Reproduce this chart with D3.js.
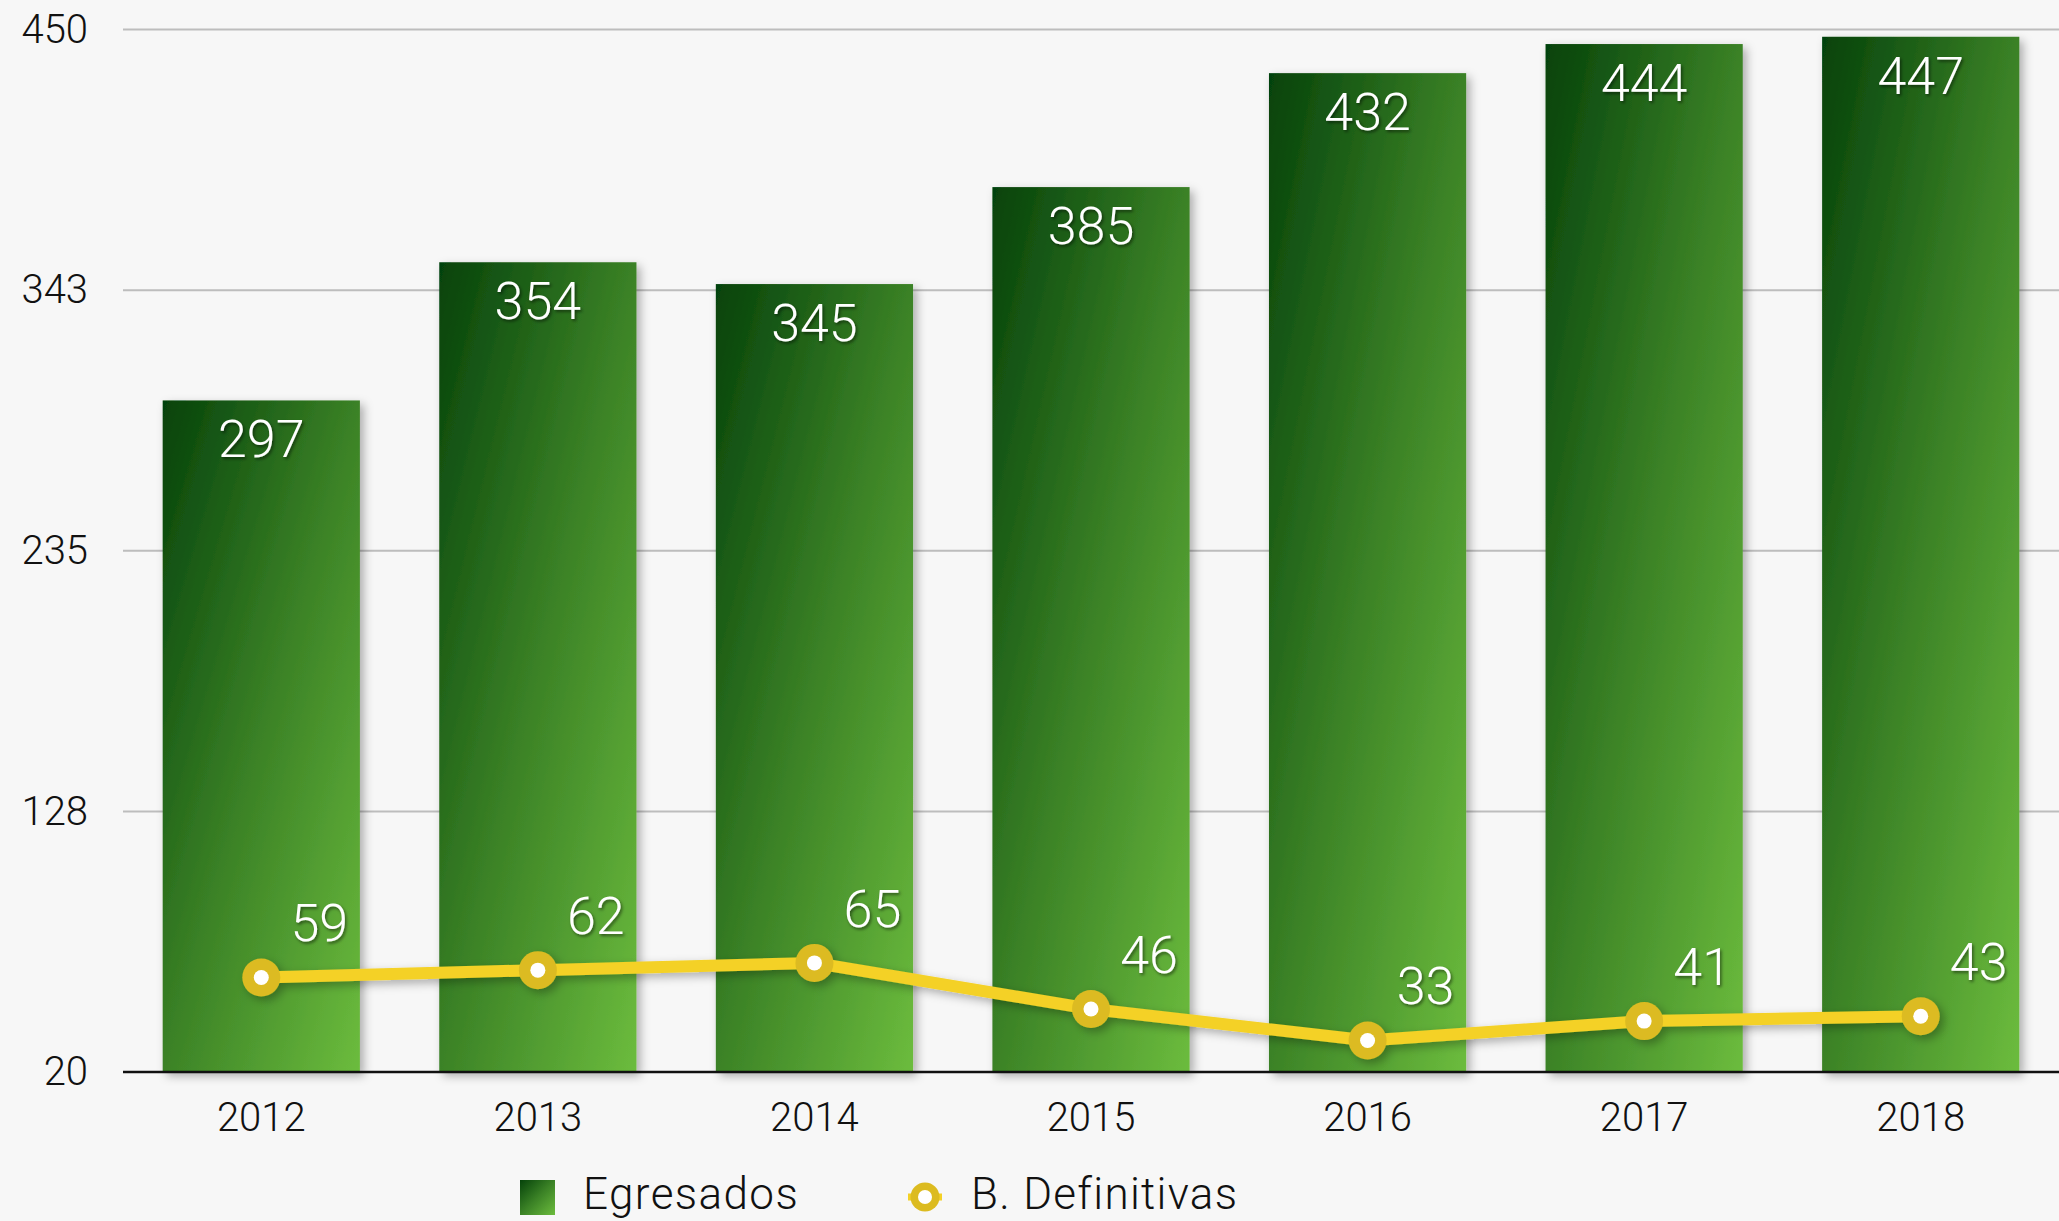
<!DOCTYPE html>
<html><head><meta charset="utf-8">
<script src="https://cdn.jsdelivr.net/npm/d3@7"></script>
<style>
html,body{margin:0;padding:0;background:#f7f7f7;}
svg{display:block;}
text{font-family:Roboto,"Liberation Sans",sans-serif;}
</style></head>
<body>
<script>
const years = ["2012","2013","2014","2015","2016","2017","2018"];
const egresados = [297,354,345,385,432,444,447];
const definitivas = [59,62,65,46,33,41,43];
const yTicks = [20,127.5,235,342.5,450];
const yTickLabels = ["20","128","235","343","450"];
const seriesNames = ["Egresados","B. Definitivas"];

const W = 2059, H = 1221;
const svg = d3.select("body").append("svg").attr("width",W).attr("height",H);
svg.append("rect").attr("width",W).attr("height",H).attr("fill","#f7f7f7");

const defs = svg.append("defs");
const grad = defs.append("linearGradient").attr("id","barGrad")
  .attr("x1",0).attr("y1",0).attr("x2",1).attr("y2",1);
grad.append("stop").attr("offset","0%").attr("stop-color","#05420a");
grad.append("stop").attr("offset","50%").attr("stop-color","#3b8226");
grad.append("stop").attr("offset","100%").attr("stop-color","#6cbc3d");

const sh = defs.append("filter").attr("id","shadow").attr("x","-20%").attr("y","-20%").attr("width","140%").attr("height","140%");
sh.append("feDropShadow").attr("dx",4).attr("dy",4).attr("stdDeviation",5).attr("flood-color","#000").attr("flood-opacity",0.3);
const ts = defs.append("filter").attr("id","tshadow").attr("x","-20%").attr("y","-20%").attr("width","140%").attr("height","140%");
ts.append("feDropShadow").attr("dx",1.5).attr("dy",2).attr("stdDeviation",1.5).attr("flood-color","#000").attr("flood-opacity",0.5);

const x = d3.scaleBand().domain(years).range([123, W]).paddingInner(0.287).paddingOuter(0.1435);
const y = d3.scaleLinear().domain([20,450]).range([1072, 29.5]);

const yAxis = d3.axisLeft(y).tickValues(yTicks).tickSize(0).tickFormat((d,i)=>yTickLabels[i]);
const gy = svg.append("g").attr("transform","translate(88,0)").call(yAxis);
gy.select(".domain").remove();
gy.selectAll("text").attr("x",0).attr("font-size",40).attr("font-weight",300).attr("fill","#111")
  .attr("font-family","Roboto, sans-serif").attr("text-anchor","end");

svg.append("g").selectAll("line").data(yTicks.filter(d=>d!==20)).join("line")
  .attr("x1",123).attr("x2",W).attr("y1",d=>y(d)).attr("y2",d=>y(d))
  .attr("stroke","#bdbdbd").attr("stroke-width",2);

svg.append("g").attr("filter","url(#shadow)").selectAll("rect").data(egresados).join("rect")
  .attr("x",(d,i)=>x(years[i])).attr("width",x.bandwidth())
  .attr("y",d=>y(d)).attr("height",d=>y(20)-y(d))
  .attr("fill","url(#barGrad)");

const xAxis = d3.axisBottom(x).tickSize(0).tickPadding(0);
const gx = svg.append("g").attr("transform",`translate(0,${y(20)})`).call(xAxis);
gx.select(".domain").remove();
gx.selectAll("text").attr("dy",null).attr("y",59).attr("font-size",40).attr("font-weight",300)
  .attr("fill","#111").attr("font-family","Roboto, sans-serif");
svg.append("line").attr("x1",123).attr("x2",W).attr("y1",y(20)).attr("y2",y(20))
  .attr("stroke","#111").attr("stroke-width",2.5);

svg.append("g").attr("filter","url(#tshadow)").selectAll("text").data(egresados).join("text")
  .attr("x",(d,i)=>x(years[i])+x.bandwidth()/2).attr("y",d=>y(d)+57)
  .attr("text-anchor","middle").attr("font-size",52).attr("font-weight",300).attr("fill","#fff")
  .text(d=>d);

const cx = (d,i)=>x(years[i])+x.bandwidth()/2;
const line = d3.line().x((d,i)=>cx(d,i)).y(d=>y(d));
const lg = svg.append("g").attr("filter","url(#shadow)");
lg.append("path").datum(definitivas).attr("d",line).attr("fill","none")
  .attr("stroke","#f4d126").attr("stroke-width",12).attr("stroke-linejoin","round");
lg.selectAll("circle.o").data(definitivas).join("circle").attr("class","o")
  .attr("cx",cx).attr("cy",d=>y(d)).attr("r",19).attr("fill","#dcbb20");
svg.append("g").selectAll("circle").data(definitivas).join("circle")
  .attr("cx",cx).attr("cy",d=>y(d)).attr("r",7.5).attr("fill","#fff");

svg.append("g").attr("filter","url(#tshadow)").selectAll("text").data(definitivas).join("text")
  .attr("x",(d,i)=>cx(d,i)+58).attr("y",d=>y(d)-36)
  .attr("text-anchor","middle").attr("font-size",52).attr("font-weight",300).attr("fill","#fff")
  .text(d=>d);

const leg = svg.append("g");
leg.append("rect").attr("x",520).attr("y",1180).attr("width",35).attr("height",35).attr("fill","url(#barGrad)");
leg.append("text").attr("x",583).attr("y",1209).attr("font-size",44).attr("font-weight",300)
  .attr("letter-spacing",1.4).attr("fill","#111").text(seriesNames[0]);
leg.append("line").attr("x1",908).attr("x2",942).attr("y1",1197).attr("y2",1197).attr("stroke","#f4d126").attr("stroke-width",7);
leg.append("circle").attr("cx",925).attr("cy",1197).attr("r",14.5).attr("fill","#dcbb20");
leg.append("circle").attr("cx",925).attr("cy",1197).attr("r",7).attr("fill","#fff");
leg.append("text").attr("x",971).attr("y",1209).attr("font-size",44).attr("font-weight",300)
  .attr("letter-spacing",1.3).attr("fill","#111").text(seriesNames[1]);
</script>
</body></html>
